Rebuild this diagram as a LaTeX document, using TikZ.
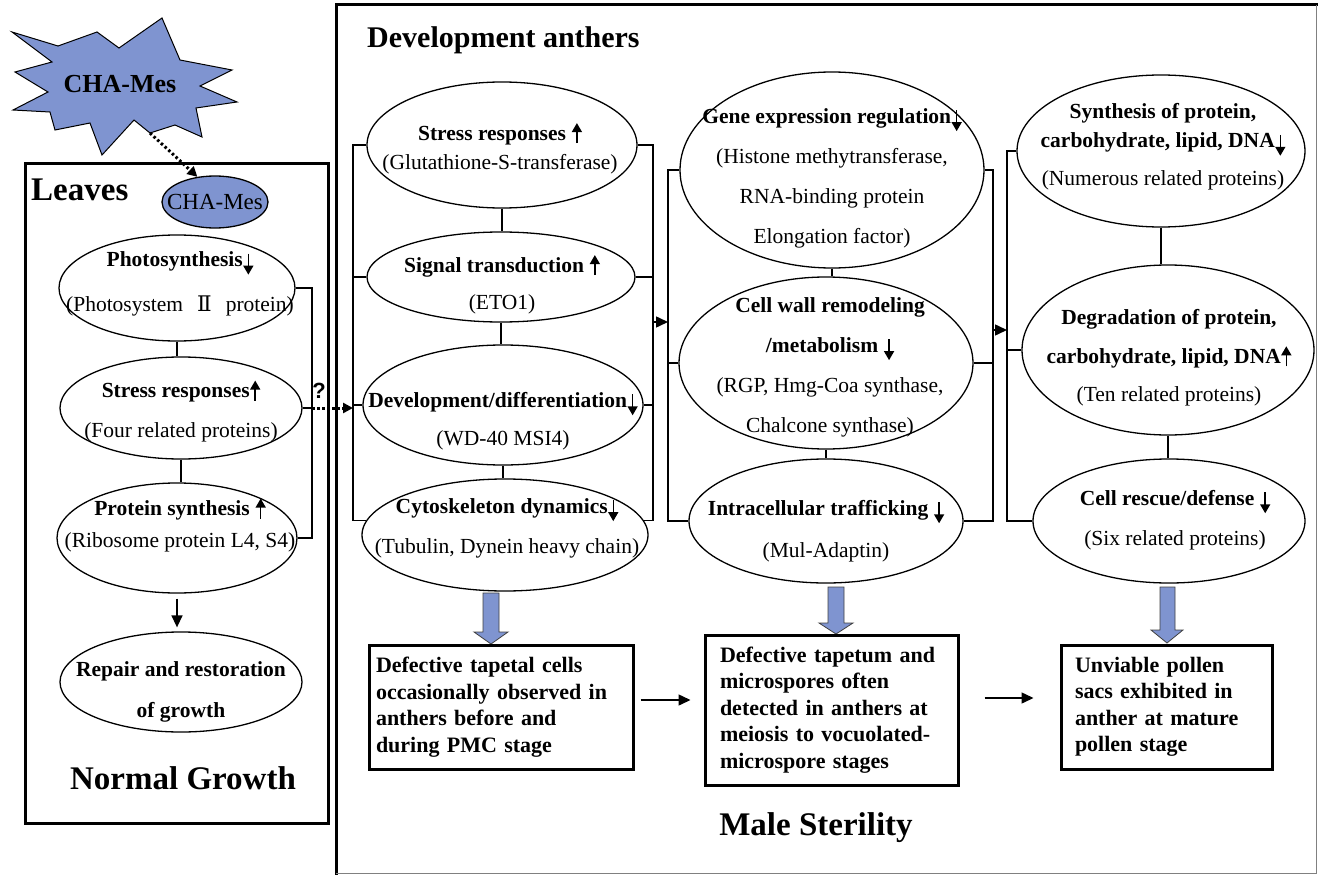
\documentclass[tikz,border=0pt]{standalone}
\usepackage{fontspec}
\setmainfont{Liberation Serif}
\newfontfamily\dvserif{DejaVu Serif}
\newfontfamily\lsans{Liberation Sans}
\usetikzlibrary{shapes.geometric,arrows.meta,calc}
\definecolor{starblue}{RGB}{127,148,208}
\newcommand{\dnarr}{\kern0.5pt\tikz[baseline=0pt]\draw[line width=1.5pt,-{Triangle[length=9pt,width=10pt]}] (0pt,13pt) -- (0pt,-8pt);}
\newcommand{\uparr}{\kern0.5pt\tikz[baseline=0pt]\draw[line width=1.5pt,-{Triangle[length=9pt,width=10pt]}] (0pt,-3pt) -- (0pt,17pt);}
\begin{document}
\begin{tikzpicture}[x=1pt,y=-1pt,
  ell/.style={draw, ellipse, line width=1.3pt, inner sep=0pt},
  con/.style={line width=1.3pt},
  arr/.style={line width=1.5pt, -{Triangle[length=12pt,width=11pt]}},
  dotarr/.style={line width=3pt, dash pattern=on 2.5pt off 2.5pt, -{Triangle[length=10pt,width=10pt]}},
  et/.style={align=center, inner sep=0pt, font=\fontsize{21.5}{#1}\selectfont},
  et/.default=40,
  etb/.style={align=center, inner sep=0pt, font=\fontsize{21.5}{#1}\selectfont\bfseries},
  title/.style={inner sep=0pt, font=\fontsize{33}{40}\selectfont\bfseries},
  resbox/.style={draw, line width=3pt, align=left, inner ysep=0pt, font=\fontsize{22}{26.5}\selectfont\bfseries},
  blk/.style={fill=starblue, draw=black!75, line width=0.8pt}
]
\useasboundingbox (0,0) rectangle (1318,875);

% frames
\draw[line width=3pt] (25,163) rectangle (328,823);
\draw[line width=3pt] (336,875) -- (336,5) -- (1318,5);
\draw[gray, line width=1pt] (1316.5,5) -- (1316.5,873.5) -- (336,873.5);

% star
\draw[fill=starblue, line width=1pt] (12,32) -- (58,46) -- (97,32) -- (119,48) -- (162,18) -- (180,60) -- (232,70) -- (200,86) -- (237,102) -- (196,108) -- (202,137) -- (175,125) -- (150,133) -- (134,120) -- (102,155) -- (90,123) -- (55,130) -- (50,112) -- (13,110) -- (48,92) -- (15,72) -- (52,62) -- cycle;
\node[inner sep=0pt, font=\fontsize{26}{30}\selectfont\bfseries] (star) at (120,84) {CHA-Mes};
\coordinate (startip) at (150,133);

% Leaves
\node[title, anchor=west] (leaves) at (31,190) {Leaves};
\node[ell, fill=starblue, minimum width=106, minimum height=52] (chaL) at (215,202) {};
\node[inner sep=0pt, font=\fontsize{23}{26}\selectfont] (chaLt) at (215,202) {CHA-Mes};
\draw[dotarr] (startip) -- (chaL.125);

\node[ell, minimum width=236, minimum height=106] (photo) at (177,288) {};
\node[et=45] (photoT) at (180,284) {\textbf{Photosynthesis}\dnarr\\(Photosystem\hspace{0.4em} {\dvserif Ⅱ}\hspace{0.4em} protein)};
\node[ell, minimum width=242, minimum height=102] (stressL) at (181,408) {};
\node[et=40] (stressLT) at (181,411) {\textbf{Stress responses}\uparr\\(Four related proteins)};
\node[ell, minimum width=240, minimum height=110] (protein) at (177,538) {};
\node[et=32] (proteinT) at (180,525) {\textbf{Protein synthesis }\uparr\\(Ribosome protein L4, S4)};
\node[ell, minimum width=242, minimum height=100] (repair) at (181,682) {};
\node[etb=41] (repairT) at (181,692) {Repair and restoration\\of growth};
\node[title] (normal) at (183,778) {Normal Growth};

\coordinate (bl1) at (312,0);
\draw[con] (photo.south) -- (photo.south |- stressL.north);
\draw[con] (stressL.south) -- (stressL.south |- protein.north);
\draw[con] (photo.east) -| (bl1 |- protein.east) -- (protein.east);
\draw[con] (stressL.east) -- (bl1 |- stressL.east);
\draw[arr, shorten <=5pt, shorten >=4pt] (protein.south) -- (protein.south |- repair.north);
\node[inner sep=0pt, font=\lsans\bfseries\fontsize{22}{26}\selectfont] (q) at (319,391) {?};

% Development anthers
\node[inner sep=0pt, anchor=west, font=\fontsize{30}{36}\selectfont\bfseries] (devtitle) at (367,40) {Development anthers};

% column 1
\node[ell, minimum width=270, minimum height=126] (s1) at (502,145) {};
\node[et=29] (s1T) at (500,148) {\textbf{Stress responses }\uparr\\(Glutathione-S-transferase)};
\node[ell, minimum width=268, minimum height=90] (sig) at (501,277) {};
\node[et=37] (sigT) at (502,284) {\textbf{Signal transduction }\uparr\\(ETO1)};
\node[ell, minimum width=280, minimum height=120] (dev) at (503,405) {};
\node[et=38] (devT) at (503,421) {\textbf{Development/differentiation}\dnarr\\(WD-40 MSI4)};
\node[ell, minimum width=286, minimum height=112] (cyto) at (505,535) {};
\node[et=40] (cytoT) at (507,528) {\textbf{Cytoskeleton dynamics}\dnarr\\(Tubulin, Dynein heavy chain)};

% column 2
\node[ell, minimum width=304, minimum height=196] (gene) at (832,170) {};
\node[et=40] (geneT) at (832,178) {\textbf{Gene expression regulation}\dnarr\\(Histone methytransferase,\\RNA-binding protein\\Elongation factor)};
\node[ell, minimum width=294, minimum height=172] (cw) at (826,363) {};
\node[et=40] (cwT) at (830,367) {\textbf{Cell wall remodeling}\\\textbf{/metabolism }\dnarr\\(RGP, Hmg-Coa synthase,\\Chalcone synthase)};
\node[ell, minimum width=274, minimum height=124] (intra) at (826,521) {};
\node[et=42] (intraT) at (826,531) {\textbf{Intracellular trafficking }\dnarr\\(Mul-Adaptin)};

% column 3
\node[ell, minimum width=288, minimum height=152] (synth) at (1161,151) {};
\node[et=29] (synthT) at (1163,147) {\textbf{Synthesis of protein,}\\\textbf{carbohydrate, lipid, DNA}\dnarr\\[9pt](Numerous related proteins)};
\node[ell, minimum width=292, minimum height=170] (degr) at (1168,350) {};
\node[et=38.5] (degrT) at (1169,358) {\textbf{Degradation of protein,}\\\textbf{carbohydrate, lipid, DNA}\uparr\\(Ten related proteins)};
\node[ell, minimum width=272, minimum height=124] (rescue) at (1169,521) {};
\node[et=40] (rescueT) at (1175,520) {\textbf{Cell rescue/defense }\dnarr\\(Six related proteins)};

% brackets
\coordinate (c1L) at (353,0);
\coordinate (c1R) at (653,0);
\coordinate (c2L) at (668,0);
\coordinate (c2R) at (993,0);
\coordinate (c3L) at (1007,0);

\draw[dotarr] (bl1 |- stressL.east) -- (c1L |- stressL.east);

\draw[con] (s1.west) -- (c1L |- s1.west) -- (c1L |- cyto.174) -- (cyto.174);
\draw[con] (sig.west) -- (c1L |- sig.west);
\draw[con] (dev.west) -- (c1L |- dev.west);
\draw[con] (s1.east) -- (c1R |- s1.east) -- (c1R |- cyto.6) -- (cyto.6);
\draw[con] (sig.east) -- (c1R |- sig.east);
\draw[con] (dev.east) -- (c1R |- dev.east);
\coordinate (a1) at (653,322);
\draw[arr] (a1) -- (a1 -| c2L);

\draw[con] (gene.west) -- (c2L |- gene.west) -- (c2L |- intra.west) -- (intra.west);
\draw[con] (cw.west) -- (c2L |- cw.west);
\draw[con] (gene.east) -- (c2R |- gene.east) -- (c2R |- intra.east) -- (intra.east);
\draw[con] (cw.east) -- (c2R |- cw.east);
\coordinate (a2) at (993,330);
\draw[arr] (a2) -- (a2 -| c3L);

\draw[con] (synth.west) -- (c3L |- synth.west) -- (c3L |- rescue.west) -- (rescue.west);
\draw[con] (degr.west) -- (c3L |- degr.west);

% verticals
\draw[con] (s1.south) -- (s1.south |- sig.north);
\draw[con] (sig.south) -- (sig.south |- dev.north);
\draw[con] (dev.south) -- (dev.south |- cyto.north);
\draw[con] (gene.south) -- (gene.south |- cw.north);
\draw[con] (cw.south) -- (cw.south |- intra.north);
\draw[con] (synth.south) -- (synth.south |- degr.north);
\draw[con] (degr.south) -- (degr.south |- rescue.north);

% block arrows
\draw[blk] (483,593) -- (499,593) -- (499,632) -- (508,632) -- (491,644) -- (474,632) -- (483,632) -- cycle;
\draw[blk] (828,587) -- (844,587) -- (844,623) -- (853,623) -- (836,634) -- (819,623) -- (828,623) -- cycle;
\draw[blk] (1160,587) -- (1175,587) -- (1175,630) -- (1183,630) -- (1167,643) -- (1151,630) -- (1160,630) -- cycle;

% result boxes
\node[resbox, inner xsep=7pt, text width=250pt, minimum height=124pt] (box1) at (501,707) {Defective tapetal cells\\occasionally observed in\\anthers before and\\during PMC stage};
\node[resbox, inner xsep=15pt, text width=223pt, minimum height=150pt] (box2) at (831.5,710) {Defective tapetum and\\microspores often\\detected in anthers at\\meiosis to vocuolated-\\microspore stages};
\node[resbox, inner xsep=14pt, text width=183pt, minimum height=124pt] (box3) at (1166.5,707) {Unviable pollen\\sacs exhibited in\\anther at mature\\pollen stage};

\draw[arr, shorten <=6pt, shorten >=13pt] ($(box1.east)+(0,-7)$) -- ($(box1.east -| box2.west)+(0,-7)$);
\draw[arr, shorten <=25pt, shorten >=26pt] ($(box2.east)+(0,-12)$) -- ($(box2.east -| box3.west)+(0,-12)$);

\node[title] (male) at (816,828) {Male Sterility};
\end{tikzpicture}
\end{document}
